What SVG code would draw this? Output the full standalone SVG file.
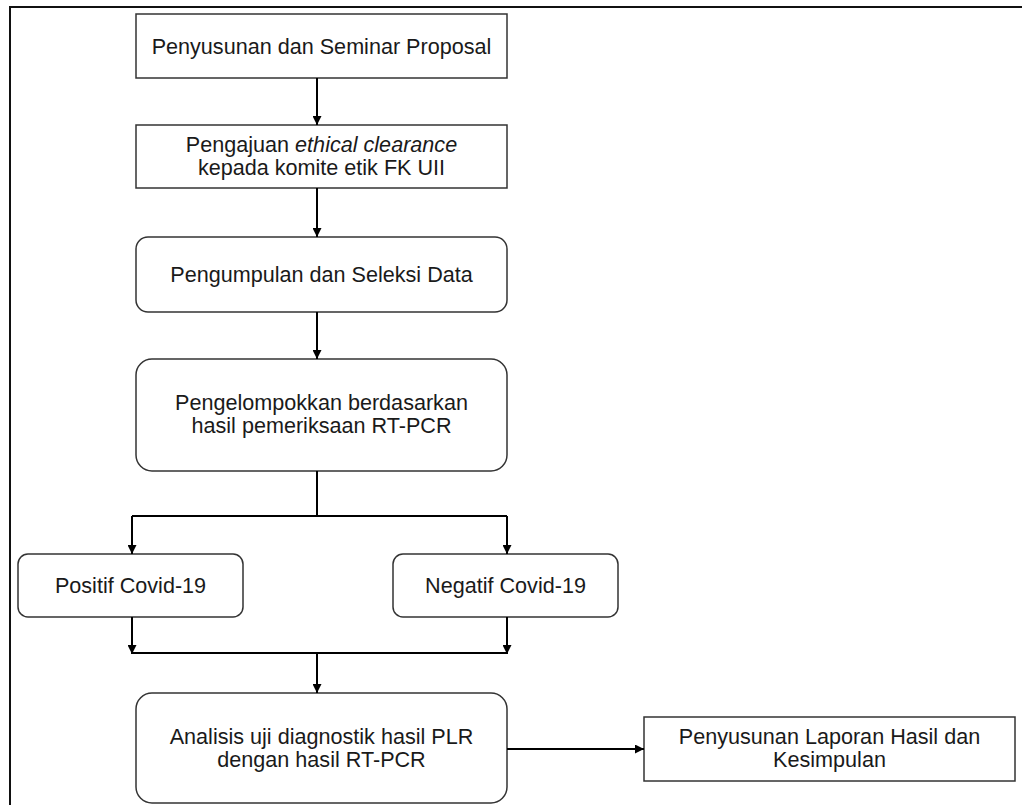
<svg xmlns="http://www.w3.org/2000/svg" width="1022" height="805" viewBox="0 0 1022 805">
<style>
.box{fill:#fff;stroke:#333;stroke-width:1.5}
.t{font-family:"Liberation Sans",Arial,sans-serif;font-size:21.6px;fill:#1a1a1a;text-anchor:middle}
.c{fill:none;stroke:#000;stroke-width:2}
</style>
<defs>
<marker id="ah" viewBox="0 0 10 10" refX="10" refY="5" markerWidth="10" markerHeight="9" markerUnits="userSpaceOnUse" orient="auto">
<path d="M0,0 L10,5 L0,10 Z" fill="#000"/>
</marker>
</defs>
<rect width="1022" height="805" fill="#fff"/>
<g id="frame"><path d="M10,805 V7 H1022" fill="none" stroke="#111" stroke-width="2"/></g>
<g id="n1"><rect class="box" x="136" y="14" width="371" height="64"/><text class="t" x="321.5" y="54">Penyusunan dan Seminar Proposal</text></g>
<g id="n2"><rect class="box" x="136" y="125" width="371" height="63"/><text class="t" x="321.5" y="152">Pengajuan <tspan font-style="italic">ethical clearance</tspan></text><text class="t" x="321.5" y="175">kepada komite etik FK UII</text></g>
<g id="n3"><rect class="box" x="136" y="237" width="371" height="75" rx="12"/><text class="t" x="321.5" y="282">Pengumpulan dan Seleksi Data</text></g>
<g id="n4"><rect class="box" x="136" y="359" width="371" height="112" rx="16"/><text class="t" x="321.5" y="410">Pengelompokkan berdasarkan</text><text class="t" x="321.5" y="433">hasil pemeriksaan RT-PCR</text></g>
<g id="n5"><rect class="box" x="18" y="554" width="225" height="63" rx="10"/><text class="t" x="130.5" y="593">Positif Covid-19</text></g>
<g id="n6"><rect class="box" x="393" y="554" width="225" height="63" rx="10"/><text class="t" x="505.5" y="593">Negatif Covid-19</text></g>
<g id="n7"><rect class="box" x="136" y="693" width="371" height="110" rx="16"/><text class="t" x="321.5" y="744">Analisis uji diagnostik hasil PLR</text><text class="t" x="321.5" y="767">dengan hasil RT-PCR</text></g>
<g id="n8"><rect class="box" x="644" y="717" width="371" height="64"/><text class="t" x="829.5" y="744">Penyusunan Laporan Hasil dan</text><text class="t" x="829.5" y="767">Kesimpulan</text></g>
<g id="connectors">
<path class="c" d="M317,78 V125" marker-end="url(#ah)"/>
<path class="c" d="M317,188 V237" marker-end="url(#ah)"/>
<path class="c" d="M317,312 V359" marker-end="url(#ah)"/>
<path class="c" d="M317,471 V516"/>
<path class="c" d="M132,516 H507"/>
<path class="c" d="M132,516 V554" marker-end="url(#ah)"/>
<path class="c" d="M507,516 V554" marker-end="url(#ah)"/>
<path class="c" d="M132,617 V654" marker-end="url(#ah)"/>
<path class="c" d="M507,617 V654" marker-end="url(#ah)"/>
<path class="c" d="M132,653 H507"/>
<path class="c" d="M317,653 V693" marker-end="url(#ah)"/>
<path class="c" d="M507,749 H644" marker-end="url(#ah)"/>
</g>
</svg>
